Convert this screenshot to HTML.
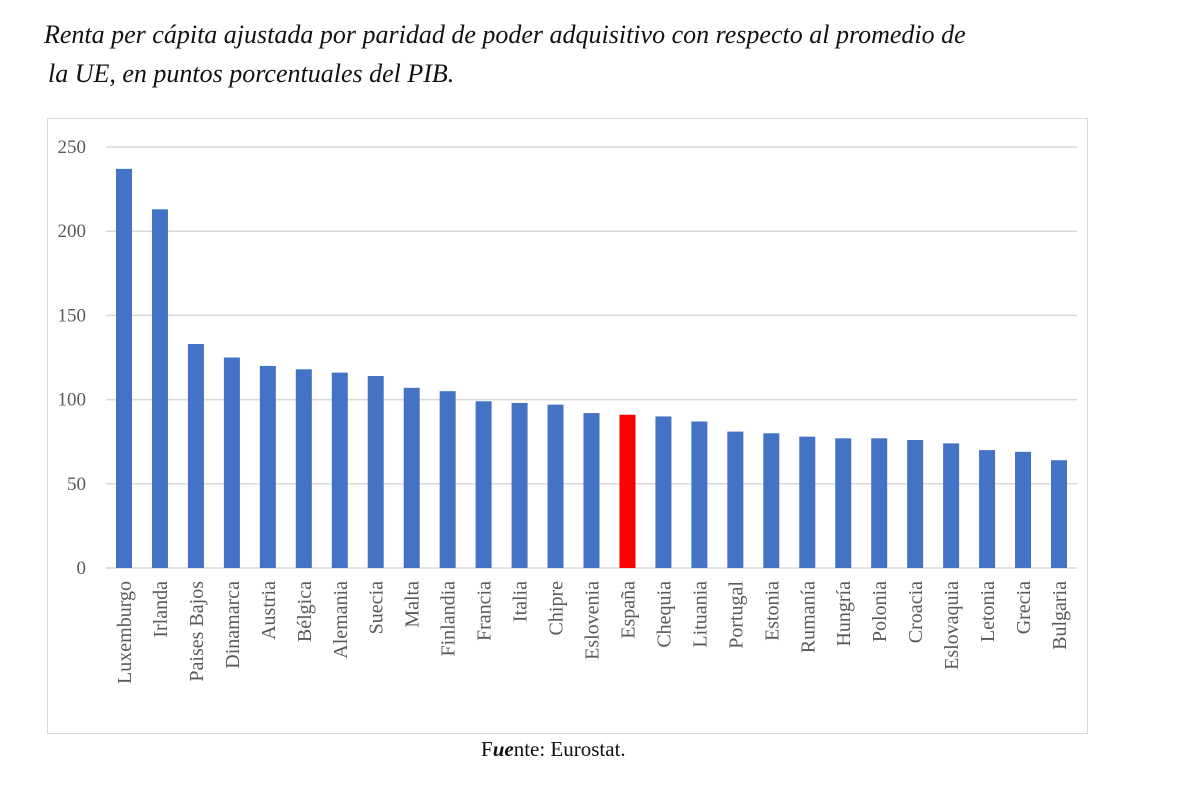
<!DOCTYPE html>
<html><head><meta charset="utf-8"><style>
body{margin:0;background:#fff;width:1200px;height:789px;overflow:hidden;position:relative;font-family:"Liberation Serif",serif}
.t{position:absolute;font-style:italic;font-size:26px;color:#111;white-space:nowrap}
</style></head><body>
<div class="t" style="left:44px;top:20px">Renta per cápita ajustada por paridad de poder adquisitivo con respecto al promedio de</div>
<div class="t" style="left:48px;top:59px">la UE, en puntos porcentuales del PIB.</div>
<svg id="c" width="1200" height="789" style="position:absolute;left:0;top:0">
<rect x="47.5" y="118.5" width="1040" height="615" fill="none" stroke="#d9d9d9"/>
<g id="grid"></g><g id="bars"></g><g id="labels"></g>
</svg>
<div style="position:absolute;left:481px;top:737px;font-size:21px;color:#111">F<b><i>ue</i></b>nte: Eurostat.</div>
<script>
const categories=["Luxemburgo","Irlanda","Paises Bajos","Dinamarca","Austria","Bélgica","Alemania","Suecia","Malta","Finlandia","Francia","Italia","Chipre","Eslovenia","España","Chequia","Lituania","Portugal","Estonia","Rumanía","Hungría","Polonia","Croacia","Eslovaquia","Letonia","Grecia","Bulgaria"];
const values=[237,213,133,125,120,118,116,114,107,105,99,98,97,92,91,90,87,81,80,78,77,77,76,74,70,69,64];
const ticks=[0,50,100,150,200,250];
const NS="http://www.w3.org/2000/svg";
const y=v=>568-v*(568-147)/250;
const x=i=>124+i*(1059-124)/(categories.length-1);
const grid=document.getElementById('grid'),bars=document.getElementById('bars'),labels=document.getElementById('labels');
ticks.forEach(t=>{
 const l=document.createElementNS(NS,'line');
 
 
 l.setAttribute('x1',106);l.setAttribute('x2',1077);l.setAttribute('y1',y(t));l.setAttribute('y2',y(t));
 l.setAttribute('stroke','#d9d9d9');l.setAttribute('stroke-width',1.5);grid.appendChild(l);
 const tx=document.createElementNS(NS,'text');
 
 
 tx.setAttribute('x',86);tx.setAttribute('y',y(t)+6);tx.setAttribute('text-anchor','end');
 tx.setAttribute('font-size',19);tx.setAttribute('fill','#595959');tx.setAttribute('font-family','Liberation Serif, serif');
 tx.textContent=t;grid.appendChild(tx);
});
categories.forEach((c,i)=>{
 const r=document.createElementNS(NS,'rect');
 
 
 r.setAttribute('x',x(i)-8);r.setAttribute('width',16);r.setAttribute('y',y(values[i]));r.setAttribute('height',y(0)-y(values[i]));
 r.setAttribute('fill',c==='España'?'#ff0000':'#4472c4');bars.appendChild(r);
 const tx=document.createElementNS(NS,'text');
 
 
 tx.setAttribute('transform','translate('+(x(i)+7)+',581) rotate(-90)');
 tx.setAttribute('text-anchor','end');tx.setAttribute('font-size',20);tx.setAttribute('fill','#595959');tx.setAttribute('font-family','Liberation Serif, serif');
 tx.textContent=c;labels.appendChild(tx);
});
</script>
</body></html>
